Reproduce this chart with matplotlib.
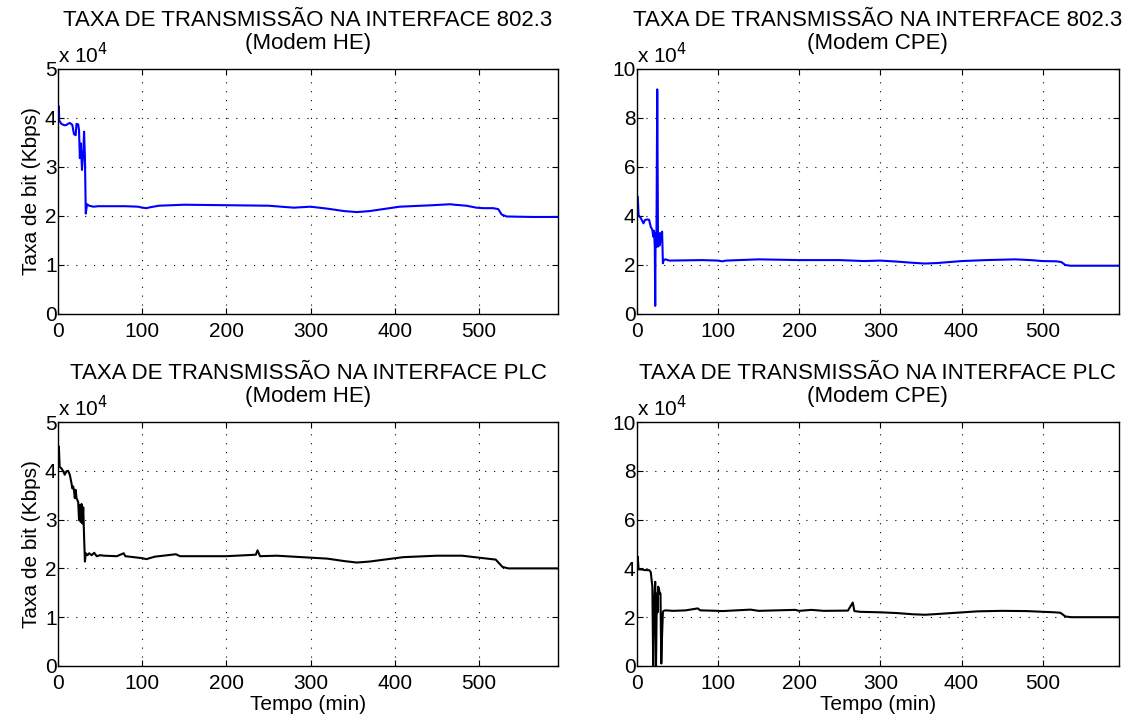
import matplotlib
matplotlib.use("Agg")
import matplotlib.pyplot as plt
from matplotlib.ticker import FuncFormatter

plt.rcParams['font.family'] = ['Liberation Sans', 'DejaVu Sans']

# tempo (min) e taxa (x 10^4 Kbps)
he_eth_t = [0, 1, 1.5, 4, 8, 10, 14, 17, 19, 21, 22, 24, 25, 26, 27, 28, 28.5, 30, 31,
            32, 33, 34.5, 37, 42, 48, 60, 80, 95, 100, 105, 110, 120, 150, 200, 250,
            280, 300, 320, 340, 355, 370, 406, 445, 466, 471, 485, 497, 505, 517, 523,
            527, 533, 564, 594]
he_eth_v = [4.0, 4.24, 3.95, 3.88, 3.85, 3.86, 3.9, 3.86, 3.67, 3.65, 3.88, 3.87, 3.75,
            3.18, 3.48, 3.15, 2.94, 3.3, 3.72, 3.2, 2.05, 2.24, 2.21, 2.19, 2.2, 2.2, 2.2,
            2.19, 2.17, 2.16, 2.18, 2.21, 2.23, 2.22, 2.21, 2.17, 2.19, 2.15, 2.1, 2.08,
            2.1, 2.19, 2.22, 2.24, 2.23, 2.21, 2.17, 2.16, 2.16, 2.14, 2.03, 1.99, 1.98,
            1.98]

cpe_eth_t = [0, 1, 2, 5, 8, 10, 13, 15, 17, 19, 20, 21, 22, 22.5, 23, 24, 25, 26, 27,
             28, 29, 30, 31, 32, 33, 35, 40, 60, 80, 100, 105, 110, 150, 200, 250, 280,
             300, 320, 340, 355, 370, 400, 430, 466, 485, 500, 517, 523, 528, 534, 564,
             594]
cpe_eth_v = [4.79, 4.79, 4.04, 3.9, 3.7, 3.84, 3.86, 3.84, 3.56, 3.43, 3.16, 3.4, 2.75,
             0.33, 3.3, 2.75, 9.17, 2.75, 3.3, 2.8, 3.3, 2.95, 3.36, 2.07, 2.2, 2.23,
             2.18, 2.19, 2.2, 2.18, 2.15, 2.18, 2.23, 2.2, 2.2, 2.16, 2.18, 2.14, 2.09,
             2.06, 2.08, 2.16, 2.2, 2.23, 2.2, 2.16, 2.15, 2.12, 2.0, 1.97, 1.97, 1.97]

he_plc_t = [0, 1, 2, 4, 6, 8, 10, 12, 14, 16, 17, 18, 19, 20, 21, 22, 24, 25, 26, 27,
            28, 29, 30, 31, 32, 33, 35, 37, 40, 43, 46, 50, 55, 70, 78, 80, 100, 105,
            115, 140, 145, 200, 235, 237, 240, 260, 300, 320, 340, 355, 370, 410, 450,
            480, 510, 520, 528, 535, 564, 594]
he_plc_v = [4.08, 4.5, 4.08, 4.05, 4.0, 3.92, 3.99, 4.0, 3.92, 3.75, 3.64, 3.68, 3.6,
            3.44, 3.61, 3.44, 3.36, 2.99, 3.3, 2.95, 3.32, 2.92, 3.25, 2.65, 2.14, 2.31,
            2.27, 2.31, 2.27, 2.32, 2.25, 2.27, 2.26, 2.25, 2.31, 2.25, 2.21, 2.19, 2.24,
            2.29, 2.25, 2.25, 2.28, 2.37, 2.25, 2.26, 2.22, 2.2, 2.15, 2.12, 2.14, 2.23,
            2.26, 2.26, 2.2, 2.18, 2.03, 2.0, 2.0, 2.0]

cpe_plc_t = [0, 1, 2, 5, 10, 15, 17, 19, 20, 21, 22.5, 23.5, 24.5, 25.5, 26, 27, 28,
             29, 30, 31, 32, 33, 35, 45, 60, 75, 78, 100, 105, 140, 150, 195, 200, 215,
             230, 260, 266, 268, 275, 300, 320, 340, 355, 370, 420, 450, 480, 515, 522,
             528, 535, 564, 594]
cpe_plc_v = [4.0, 4.48, 3.96, 3.96, 3.93, 3.93, 3.85, 3.25, 0.0, 2.4, 3.45, 0.0, 2.97,
             2.2, 3.25, 3.2, 2.97, 2.97, 0.1, 1.3, 2.22, 2.26, 2.28, 2.26, 2.28, 2.36,
             2.28, 2.26, 2.25, 2.31, 2.26, 2.3, 2.26, 2.3, 2.26, 2.27, 2.6, 2.25, 2.22,
             2.2, 2.17, 2.12, 2.1, 2.13, 2.24, 2.26, 2.25, 2.2, 2.18, 2.03, 2.0, 2.0, 2.0]

titles = ['TAXA DE TRANSMISSÃO NA INTERFACE 802.3',
          'TAXA DE TRANSMISSÃO NA INTERFACE 802.3',
          'TAXA DE TRANSMISSÃO NA INTERFACE PLC',
          'TAXA DE TRANSMISSÃO NA INTERFACE PLC']
subtitles = ['(Modem HE)', '(Modem CPE)', '(Modem HE)', '(Modem CPE)']
xticks = [0, 100, 200, 300, 400, 500]
yticks_he = [0, 1, 2, 3, 4, 5]
yticks_cpe = [0, 2, 4, 6, 8, 10]

fig = plt.figure(figsize=(11.37, 7.21), dpi=100)

positions = [[0.051, 0.5645, 0.4398, 0.3398],
             [0.5602, 0.5645, 0.4239, 0.3398],
             [0.051, 0.0763, 0.4398, 0.3384],
             [0.5602, 0.0763, 0.4239, 0.3384]]
series = [(he_eth_t, he_eth_v, 'blue', yticks_he),
          (cpe_eth_t, cpe_eth_v, 'blue', yticks_cpe),
          (he_plc_t, he_plc_v, 'black', yticks_he),
          (cpe_plc_t, cpe_plc_v, 'black', yticks_cpe)]

fs = 15
for i in range(4):
    ax = fig.add_axes(positions[i])
    t, v, col, yt = series[i]
    ax.plot(t, [x * 1e4 for x in v], color=col, lw=1.5)
    ax.set_xlim(0, 594)
    ax.set_ylim(0, yt[-1] * 1e4)
    ax.set_xticks(xticks)
    ax.set_yticks([y * 1e4 for y in yt])
    ax.yaxis.set_major_formatter(FuncFormatter(lambda y, p: '%d' % round(y / 1e4)))
    ax.grid(True, color='black', linestyle=(0, (1, 7)), lw=0.8)
    ax.tick_params(direction='in', top=True, right=True, length=4,
                   labelsize=fs)
    ax.tick_params(axis='y', pad=1)
    ax.tick_params(axis='x', pad=6)
    for s in ax.spines.values():
        s.set_linewidth(1.0)
    ax.text(0.5, 1.198, titles[i], transform=ax.transAxes, fontsize=16,
            ha='center', va='center')
    ax.text(0.5, 1.105, subtitles[i], transform=ax.transAxes, fontsize=16,
            ha='center', va='center')
    ax.text(0.0, 1.006, r'x 10$^4$', transform=ax.transAxes, fontsize=fs,
            ha='left', va='bottom')
    if i % 2 == 0:
        ax.set_ylabel('Taxa de bit (Kbps)', fontsize=fs, labelpad=3)
    if i >= 2:
        ax.set_xlabel('Tempo (min)', fontsize=fs, labelpad=1.5)

fig.savefig('out.png', dpi=100)
